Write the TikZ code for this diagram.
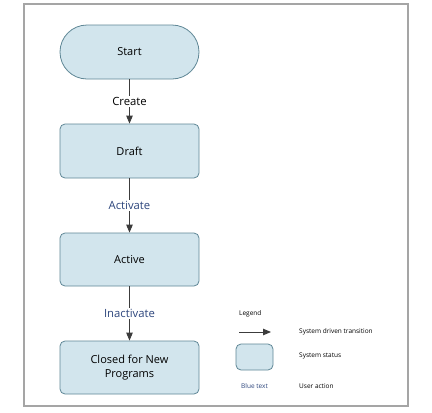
\documentclass[tikz,border=0pt]{standalone}
\usepackage{fontspec}
\setmainfont{Open Sans}
\usetikzlibrary{arrows.meta}
\definecolor{statefill}{RGB}{210,229,237}
\definecolor{statedraw}{RGB}{95,135,150}
\definecolor{actionblue}{RGB}{45,70,125}
\definecolor{arrowgray}{RGB}{60,60,60}
\definecolor{framegray}{RGB}{165,165,165}
\tikzset{>/.tip={Triangle[width=6.5pt,length=8pt]},
  status/.style={draw=statedraw, fill=statefill, line width=0.8pt, rounded corners=5pt,
    minimum width=139pt, minimum height=54pt, align=center, font=\fontsize{11}{14}\selectfont},
  trans/.style={->, draw=arrowgray, line width=0.9pt},
  lbl/.style={fill=white, inner sep=1.5pt, font=\fontsize{11.3}{13}\selectfont},
  small/.style={font=\fontsize{6.5}{8}\selectfont, inner sep=0pt}}

\begin{document}
\begin{tikzpicture}[x=1pt, y=-1pt]
\useasboundingbox (0,0) rectangle (432,413);
\draw[framegray, line width=1.6pt, fill=white] (24,4) rectangle (408,406);

\node[status, rounded corners=27pt] (start) at (129.5,52) {Start};
\node[status] (draft) at (129.5,151) {Draft};
\node[status, minimum height=53pt] (active) at (129.5,259.5) {Active};
\node[status, minimum height=53pt] (closed) at (129.5,367.5) {Closed for New\\Programs};

\draw[trans] (start) -- node[lbl] {Create} (draft);
\draw[trans] (draft) -- node[lbl, text=actionblue] {Activate} (active);
\draw[trans] (active) -- node[lbl, text=actionblue] {Inactivate} (closed);

\node[small, anchor=west] (legend) at (239,314) {Legend};
\coordinate (la) at (239,332);
\coordinate (lb) at (271,332);
\draw[trans] (la) -- (lb);
\node[status, minimum width=37pt, minimum height=26pt, rounded corners=5pt] (lbox) at (254.5,357) {};
\node[small, text=actionblue] (blue) at (254.5,386) {Blue text};
\node[small, anchor=west] (ltrans) at (299,332) {System driven transition};
\node[small, anchor=west] (lstat) at (299,356) {System status};
\node[small, anchor=west] (luser) at (299,386) {User action};
\end{tikzpicture}
\end{document}
